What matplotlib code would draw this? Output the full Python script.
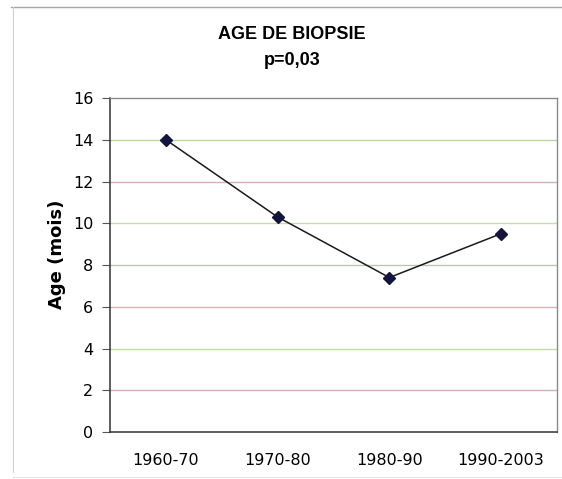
import matplotlib
matplotlib.use('Agg')
from matplotlib import pyplot, ticker, rcParams
from matplotlib.lines import Line2D

rcParams['font.family'] = ['DejaVu Sans']

periods = ['1960-70', '1970-80', '1980-90', '1990-2003']
age_mois = [14.0, 10.3, 7.4, 9.5]
y_ticks = [0, 2, 4, 6, 8, 10, 12, 14, 16]
# faint tinted gridlines, one per tick level (2..14)
grid_colors = {2: '#d8b0b0', 4: '#c4dca8', 6: '#d8b4b0', 8: '#b8c8b0',
               10: '#c8dcb0', 12: '#d8b0b0', 14: '#bcd8a4'}

fig = pyplot.figure(figsize=(5.62, 4.79), dpi=100)
ax = fig.add_axes([0.1957, 0.0981, 0.7953, 0.6973])

xs = [i + 0.5 for i in range(len(periods))]
for yv, col in grid_colors.items():
    ax.axhline(yv, color=col, linewidth=1.0, zorder=1)

ax.plot(xs, age_mois, color='#1a1a1a', linewidth=1.1, zorder=2)
ax.plot(xs, age_mois, linestyle='none', marker='D', markersize=6.5,
        color='#14143c', zorder=3)

ax.set_xlim(0, 4)
ax.set_ylim(0, 16)
ax.set_yticks(y_ticks)
ax.set_xticks(xs)
ax.set_xticklabels(periods)
ax.tick_params(axis='y', length=6, width=0.8, color='#555555', labelsize=11.5, pad=6)
ax.tick_params(axis='x', length=0, labelsize=11.5, pad=15)
ax.yaxis.set_major_formatter(ticker.FormatStrFormatter('%d'))

for side in ['left', 'bottom']:
    ax.spines[side].set_color('#333333')
    ax.spines[side].set_linewidth(1.1)
for side in ['top', 'right']:
    ax.spines[side].set_color('#8a8a8a')
    ax.spines[side].set_linewidth(1.0)

ax.set_ylabel('Age (mois)', fontsize=13, fontweight='bold')
ax.yaxis.set_label_coords(-0.098, 0.533)

fig.text(0.520, 0.929, 'AGE DE BIOPSIE', ha='center', va='center',
         fontsize=13, fontweight='bold', family='Liberation Sans')
fig.text(0.520, 0.874, 'p=0,03', ha='center', va='center',
         fontsize=13, fontweight='bold', family='Liberation Sans')

# outer chart-area frame lines
fig.add_artist(Line2D([0.02, 1.0], [0.985, 0.985], color='#a0a8a0', linewidth=1.0))
fig.add_artist(Line2D([0.023, 0.023], [0.985, 0.015], color='#d0d0d0', linewidth=0.8))
fig.add_artist(Line2D([0.023, 1.0], [0.005, 0.005], color='#e4e4e4', linewidth=0.8))

fig.savefig('out.png', dpi=100)
